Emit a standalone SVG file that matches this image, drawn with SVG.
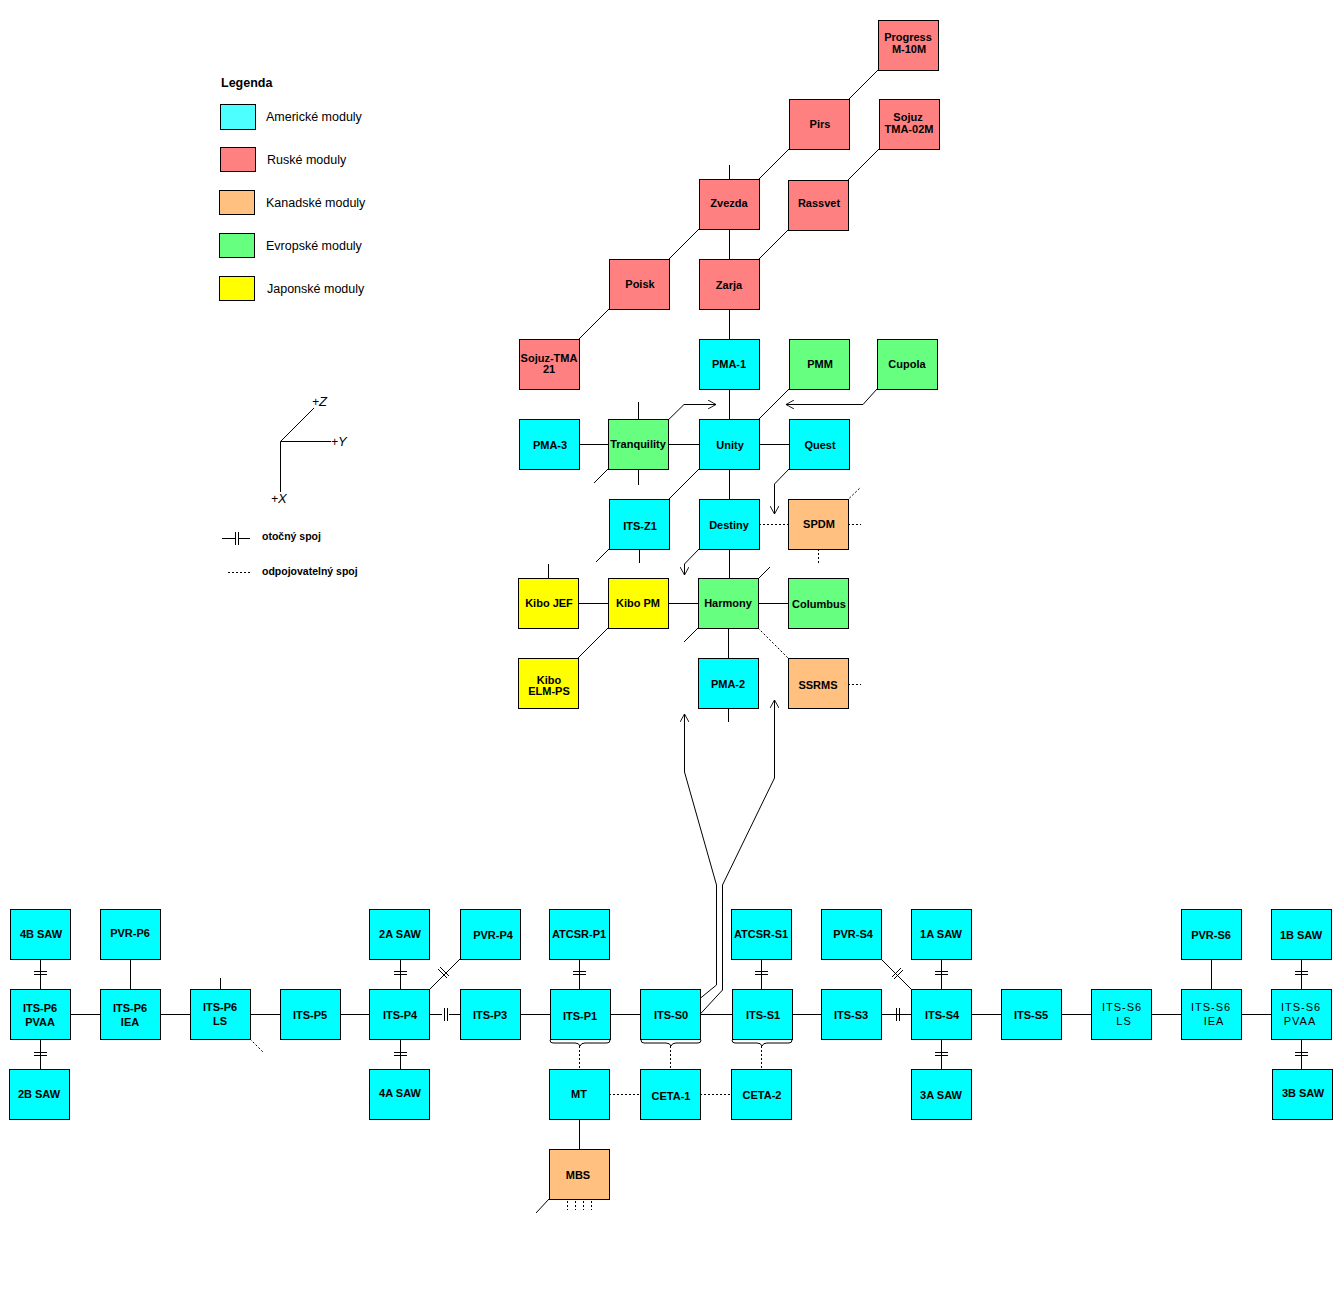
<svg xmlns="http://www.w3.org/2000/svg" width="1341" height="1300" viewBox="0 0 1341 1300">
<style>
rect{stroke:#000;stroke-width:1}
.a{fill:#00ffff}.r{fill:#ff8080}.k{fill:#ffc080}.e{fill:#66ff80}.j{fill:#ffff00}
text{font-family:"Liberation Sans",Arial,sans-serif;font-size:11px;font-weight:bold;text-anchor:middle}
.n{font-weight:normal;letter-spacing:1px}
.lg{font-size:12.5px;font-weight:normal;text-anchor:start}
.c line,.c polyline,.c path{stroke:#000;stroke-width:1;fill:none}
.c .d{stroke-dasharray:2,2}
</style>
<defs><marker id="ar" viewBox="0 0 10 10" refX="9" refY="5" markerWidth="9" markerHeight="9" orient="auto" markerUnits="userSpaceOnUse"><path d="M0,0L9,5L0,10" fill="none" stroke="#000"/></marker></defs>
<g id="legend">
<text x="221" y="87" class="lg" style="font-weight:bold">Legenda</text>
<rect x="220.5" y="104.5" width="35" height="25" fill="#4dffff"/><text x="266" y="121" class="lg">Americké moduly</text>
<rect x="220.5" y="147.5" width="35" height="24" fill="#ff8080"/><text x="267" y="164" class="lg">Ruské moduly</text>
<rect x="219.5" y="190.5" width="35" height="24" fill="#ffc080"/><text x="266" y="207" class="lg">Kanadské moduly</text>
<rect x="219.5" y="233.5" width="35" height="24" fill="#66ff80"/><text x="266" y="250" class="lg">Evropské moduly</text>
<rect x="219.5" y="276.5" width="35" height="24" fill="#ffff00"/><text x="267" y="293" class="lg">Japonské moduly</text>
<g class="c"><line x1="280.5" y1="441.5" x2="314" y2="408"/><line x1="280.5" y1="441.5" x2="331" y2="441.5"/><line x1="280.5" y1="441.5" x2="280.5" y2="492"/>
<line x1="222" y1="538.5" x2="235" y2="538.5"/><line x1="235.5" y1="532" x2="235.5" y2="545"/><line x1="238.5" y1="532" x2="238.5" y2="545"/><line x1="238" y1="538.5" x2="250" y2="538.5"/>
<line class="d" x1="228" y1="572.5" x2="250" y2="572.5"/></g>
<text x="312" y="406" class="lg" style="font-style:italic;font-size:12px">+<tspan font-size="13">Z</tspan></text>
<text x="331" y="446" class="lg" style="font-style:italic;font-size:12px">+<tspan font-size="13">Y</tspan></text>
<text x="271" y="503" class="lg" style="font-style:italic;font-size:12px">+<tspan font-size="13">X</tspan></text>
<text x="262" y="540" class="lg" style="font-weight:bold;font-size:10.5px">otočný spoj</text>
<text x="262" y="575" class="lg" style="font-weight:bold;font-size:10.5px">odpojovatelný spoj</text>
</g>
<g class="c" id="connectors">
<line x1="878" y1="70" x2="836" y2="112"/><line x1="789" y1="149" x2="746" y2="192"/><line x1="879" y1="149" x2="835" y2="193"/>
<line x1="699" y1="229" x2="656" y2="272"/><line x1="788" y1="230" x2="746" y2="272"/><line x1="609" y1="309" x2="569" y2="349"/>
<line x1="729.5" y1="165" x2="729.5" y2="179"/><line x1="729.5" y1="229" x2="729.5" y2="259"/><line x1="729.5" y1="309" x2="729.5" y2="339"/><line x1="729.5" y1="389" x2="729.5" y2="419"/>
<line x1="789" y1="389" x2="746" y2="432"/>
<polyline points="877,389 863,404.5 786,404.5" marker-end="url(#ar)"/>
<polyline points="656,432 684,404.5 716,404.5" marker-end="url(#ar)"/>
<line x1="638.5" y1="402" x2="638.5" y2="419"/><line x1="638.5" y1="469" x2="638.5" y2="485"/><line x1="608" y1="469" x2="594" y2="483"/>
<line x1="579" y1="444.5" x2="608" y2="444.5"/><line x1="668" y1="444.5" x2="699" y2="444.5"/><line x1="759" y1="444.5" x2="789" y2="444.5"/>
<line x1="699" y1="469" x2="656" y2="512"/><line x1="609" y1="549" x2="596" y2="562"/><line x1="639.5" y1="549" x2="639.5" y2="563"/>
<polyline points="789,469 774.5,484 774.5,514" marker-end="url(#ar)"/>
<line x1="729.5" y1="469" x2="729.5" y2="499"/>
<line class="d" x1="759" y1="524.5" x2="788" y2="524.5"/><line class="d" x1="835" y1="512" x2="861" y2="487"/><line class="d" x1="848" y1="524.5" x2="861" y2="524.5"/><line class="d" x1="818.5" y1="549" x2="818.5" y2="563"/>
<polyline points="699,549 684.5,564 684.5,575" marker-end="url(#ar)"/>
<line x1="729.5" y1="549" x2="729.5" y2="578"/>
<line x1="746" y1="591" x2="770" y2="567"/>
<line x1="758" y1="603.5" x2="788" y2="603.5"/><line x1="668" y1="603.5" x2="698" y2="603.5"/><line x1="578" y1="603.5" x2="608" y2="603.5"/>
<line x1="548.5" y1="564" x2="548.5" y2="578"/>
<line x1="608" y1="628" x2="565" y2="671"/><line x1="698" y1="628" x2="684" y2="642"/>
<line class="d" x1="758" y1="628" x2="788" y2="658"/>
<line x1="728.5" y1="628" x2="728.5" y2="658"/><line x1="728.5" y1="708" x2="728.5" y2="722"/>
<line class="d" x1="848" y1="684.5" x2="861" y2="684.5"/>
<polyline points="692,1005 716.5,985 716.5,885 684.5,772 684.5,714" marker-end="url(#ar)"/>
<polyline points="692,1023 722.5,990 722.5,885 774.5,778 774.5,700" marker-end="url(#ar)"/>
<line x1="70" y1="1014.5" x2="1271" y2="1014.5"/>
<!-- rotary joints vertical -->
<line x1="40.5" y1="959" x2="40.5" y2="989"/><line x1="34" y1="971.5" x2="47" y2="971.5"/><line x1="34" y1="974.5" x2="47" y2="974.5"/>
<line x1="40.5" y1="1039" x2="40.5" y2="1069"/><line x1="34" y1="1052.5" x2="47" y2="1052.5"/><line x1="34" y1="1055.5" x2="47" y2="1055.5"/>
<line x1="130.5" y1="959" x2="130.5" y2="989"/>
<line x1="220.5" y1="978" x2="220.5" y2="989"/><line class="d" x1="250" y1="1039" x2="263" y2="1052"/>
<line x1="400.5" y1="959" x2="400.5" y2="989"/><line x1="394" y1="971.5" x2="407" y2="971.5"/><line x1="394" y1="974.5" x2="407" y2="974.5"/>
<line x1="400.5" y1="1039" x2="400.5" y2="1069"/><line x1="394" y1="1052.5" x2="407" y2="1052.5"/><line x1="394" y1="1055.5" x2="407" y2="1055.5"/>
<line x1="579.5" y1="959" x2="579.5" y2="989"/><line x1="573" y1="971.5" x2="586" y2="971.5"/><line x1="573" y1="974.5" x2="586" y2="974.5"/>
<line x1="761.5" y1="959" x2="761.5" y2="989"/><line x1="755" y1="971.5" x2="768" y2="971.5"/><line x1="755" y1="974.5" x2="768" y2="974.5"/>
<line x1="941.5" y1="959" x2="941.5" y2="989"/><line x1="935" y1="971.5" x2="948" y2="971.5"/><line x1="935" y1="974.5" x2="948" y2="974.5"/>
<line x1="941.5" y1="1039" x2="941.5" y2="1069"/><line x1="935" y1="1052.5" x2="948" y2="1052.5"/><line x1="935" y1="1055.5" x2="948" y2="1055.5"/>
<line x1="1211.5" y1="959" x2="1211.5" y2="989"/>
<line x1="1301.5" y1="959" x2="1301.5" y2="989"/><line x1="1295" y1="971.5" x2="1308" y2="971.5"/><line x1="1295" y1="974.5" x2="1308" y2="974.5"/>
<line x1="1301.5" y1="1039" x2="1301.5" y2="1069"/><line x1="1295" y1="1052.5" x2="1308" y2="1052.5"/><line x1="1295" y1="1055.5" x2="1308" y2="1055.5"/>
<!-- horizontal rotary -->
<line stroke="#fff" x1="442" y1="1014.5" x2="449" y2="1014.5" style="stroke:#fff"/>
<line x1="444.5" y1="1008" x2="444.5" y2="1021"/><line x1="447.5" y1="1008" x2="447.5" y2="1021"/>
<line x1="896.5" y1="1008" x2="896.5" y2="1021"/><line x1="899.5" y1="1008" x2="899.5" y2="1021"/>
<!-- diagonal PVR -->
<line x1="460" y1="959" x2="416" y2="1003"/><line x1="438" y1="969" x2="447" y2="978"/><line x1="440" y1="967" x2="449" y2="976"/>
<line x1="881" y1="959" x2="925" y2="1003"/><line x1="892" y1="977" x2="901" y2="968"/><line x1="894" y1="979" x2="903" y2="970"/>
<!-- brackets -->
<path d="M550,1040 q0,3 3,3 h22 q4,0 5,3 q1,-3 5,-3 h22 q3,0 3,-3"/>
<path d="M641,1040 q0,3 3,3 h22 q4,0 5,3 q1,-3 5,-3 h22 q3,0 3,-3"/>
<path d="M732,1040 q0,3 3,3 h22 q4,0 5,3 q1,-3 5,-3 h22 q3,0 3,-3"/>
<line class="d" x1="579.5" y1="1046" x2="579.5" y2="1069"/><line class="d" x1="670.5" y1="1046" x2="670.5" y2="1069"/><line class="d" x1="761.5" y1="1046" x2="761.5" y2="1069"/>
<line class="d" x1="609" y1="1094.5" x2="640" y2="1094.5"/><line class="d" x1="700" y1="1094.5" x2="731" y2="1094.5"/>
<line x1="579.5" y1="1119" x2="579.5" y2="1149"/>
<line x1="549" y1="1199" x2="536" y2="1213"/>
<line class="d" x1="567.5" y1="1201" x2="567.5" y2="1210"/><line class="d" x1="575.5" y1="1201" x2="575.5" y2="1210"/><line class="d" x1="583.5" y1="1201" x2="583.5" y2="1210"/><line class="d" x1="591.5" y1="1201" x2="591.5" y2="1210"/>
</g>
<g id="progress"><rect class="r" x="878.5" y="20.5" width="60" height="50"/><text x="908" y="41">Progress</text><text x="909" y="53">M-10M</text></g>
<g id="pirs"><rect class="r" x="789.5" y="99.5" width="60" height="50"/><text x="820" y="128">Pirs</text></g>
<g id="sojuz02m"><rect class="r" x="879.5" y="99.5" width="60" height="50"/><text x="908" y="121">Sojuz</text><text x="909" y="133">TMA-02M</text></g>
<g id="zvezda"><rect class="r" x="699.5" y="179.5" width="60" height="50"/><text x="729" y="207">Zvezda</text></g>
<g id="rassvet"><rect class="r" x="788.5" y="180.5" width="60" height="50"/><text x="819" y="207">Rassvet</text></g>
<g id="poisk"><rect class="r" x="609.5" y="259.5" width="60" height="50"/><text x="640" y="288">Poisk</text></g>
<g id="zarja"><rect class="r" x="699.5" y="259.5" width="60" height="50"/><text x="729" y="289">Zarja</text></g>
<g id="sojuz21"><rect class="r" x="519.5" y="339.5" width="60" height="50"/><text x="549" y="362">Sojuz-TMA</text><text x="549" y="373">21</text></g>
<g id="pma1"><rect class="a" x="699.5" y="339.5" width="60" height="50"/><text x="729" y="368">PMA-1</text></g>
<g id="pmm"><rect class="e" x="789.5" y="339.5" width="60" height="50"/><text x="820" y="368">PMM</text></g>
<g id="cupola"><rect class="e" x="877.5" y="339.5" width="60" height="50"/><text x="907" y="368">Cupola</text></g>
<g id="pma3"><rect class="a" x="519.5" y="419.5" width="60" height="50"/><text x="550" y="449">PMA-3</text></g>
<g id="tranquility"><rect class="e" x="608.5" y="419.5" width="60" height="50"/><text x="638" y="448">Tranquility</text></g>
<g id="unity"><rect class="a" x="699.5" y="419.5" width="60" height="50"/><text x="730" y="449">Unity</text></g>
<g id="quest"><rect class="a" x="789.5" y="419.5" width="60" height="50"/><text x="820" y="449">Quest</text></g>
<g id="itsz1"><rect class="a" x="609.5" y="499.5" width="60" height="50"/><text x="640" y="530">ITS-Z1</text></g>
<g id="destiny"><rect class="a" x="699.5" y="499.5" width="60" height="50"/><text x="729" y="529">Destiny</text></g>
<g id="spdm"><rect class="k" x="788.5" y="499.5" width="60" height="50"/><text x="819" y="528">SPDM</text></g>
<g id="kibojef"><rect class="j" x="518.5" y="578.5" width="60" height="50"/><text x="549" y="607">Kibo JEF</text></g>
<g id="kibopm"><rect class="j" x="608.5" y="578.5" width="60" height="50"/><text x="638" y="607">Kibo PM</text></g>
<g id="harmony"><rect class="e" x="698.5" y="578.5" width="60" height="50"/><text x="728" y="607">Harmony</text></g>
<g id="columbus"><rect class="e" x="788.5" y="578.5" width="60" height="50"/><text x="819" y="608">Columbus</text></g>
<g id="kiboelm"><rect class="j" x="518.5" y="658.5" width="60" height="50"/><text x="549" y="684">Kibo</text><text x="549" y="695">ELM-PS</text></g>
<g id="pma2"><rect class="a" x="698.5" y="658.5" width="60" height="50"/><text x="728" y="688">PMA-2</text></g>
<g id="ssrms"><rect class="k" x="788.5" y="658.5" width="60" height="50"/><text x="818" y="689">SSRMS</text></g>
<g id="saw4b"><rect class="a" x="10.5" y="909.5" width="60" height="50"/><text x="41" y="938">4B SAW</text></g>
<g id="p6pvaa"><rect class="a" x="10.5" y="989.5" width="60" height="50"/><text x="40" y="1012">ITS-P6</text><text x="40" y="1026">PVAA</text></g>
<g id="saw2b"><rect class="a" x="9.5" y="1069.5" width="60" height="50"/><text x="39" y="1098">2B SAW</text></g>
<g id="pvrp6"><rect class="a" x="100.5" y="909.5" width="60" height="50"/><text x="130" y="937">PVR-P6</text></g>
<g id="p6iea"><rect class="a" x="100.5" y="989.5" width="60" height="50"/><text x="130" y="1012">ITS-P6</text><text x="130" y="1026">IEA</text></g>
<g id="p6ls"><rect class="a" x="190.5" y="989.5" width="60" height="50"/><text x="220" y="1011">ITS-P6</text><text x="220" y="1025">LS</text></g>
<g id="p5"><rect class="a" x="280.5" y="989.5" width="60" height="50"/><text x="310" y="1019">ITS-P5</text></g>
<g id="saw2a"><rect class="a" x="369.5" y="909.5" width="60" height="50"/><text x="400" y="938">2A SAW</text></g>
<g id="pvrp4"><rect class="a" x="460.5" y="909.5" width="60" height="50"/><text x="493" y="939">PVR-P4</text></g>
<g id="p4"><rect class="a" x="369.5" y="989.5" width="60" height="50"/><text x="400" y="1019">ITS-P4</text></g>
<g id="saw4a"><rect class="a" x="369.5" y="1069.5" width="60" height="50"/><text x="400" y="1097">4A SAW</text></g>
<g id="p3"><rect class="a" x="460.5" y="989.5" width="60" height="50"/><text x="490" y="1019">ITS-P3</text></g>
<g id="atcsrp1"><rect class="a" x="549.5" y="909.5" width="60" height="50"/><text x="579" y="938">ATCSR-P1</text></g>
<g id="p1"><rect class="a" x="550.5" y="989.5" width="60" height="50"/><text x="580" y="1020">ITS-P1</text></g>
<g id="mt"><rect class="a" x="549.5" y="1069.5" width="60" height="50"/><text x="579" y="1098">MT</text></g>
<g id="mbs"><rect class="k" x="549.5" y="1149.5" width="60" height="50"/><text x="578" y="1179">MBS</text></g>
<g id="s0"><rect class="a" x="640.5" y="989.5" width="60" height="50"/><text x="671" y="1019">ITS-S0</text></g>
<g id="ceta1"><rect class="a" x="640.5" y="1069.5" width="60" height="50"/><text x="671" y="1100">CETA-1</text></g>
<g id="atcsrs1"><rect class="a" x="731.5" y="909.5" width="60" height="50"/><text x="761" y="938">ATCSR-S1</text></g>
<g id="s1"><rect class="a" x="732.5" y="989.5" width="60" height="50"/><text x="763" y="1019">ITS-S1</text></g>
<g id="ceta2"><rect class="a" x="731.5" y="1069.5" width="60" height="50"/><text x="762" y="1099">CETA-2</text></g>
<g id="pvrs4"><rect class="a" x="821.5" y="909.5" width="60" height="50"/><text x="853" y="938">PVR-S4</text></g>
<g id="s3"><rect class="a" x="821.5" y="989.5" width="60" height="50"/><text x="851" y="1019">ITS-S3</text></g>
<g id="saw1a"><rect class="a" x="911.5" y="909.5" width="60" height="50"/><text x="941" y="938">1A SAW</text></g>
<g id="s4"><rect class="a" x="911.5" y="989.5" width="60" height="50"/><text x="942" y="1019">ITS-S4</text></g>
<g id="saw3a"><rect class="a" x="911.5" y="1069.5" width="60" height="50"/><text x="941" y="1099">3A SAW</text></g>
<g id="s5"><rect class="a" x="1001.5" y="989.5" width="60" height="50"/><text x="1031" y="1019">ITS-S5</text></g>
<g id="s6ls"><rect class="a" x="1091.5" y="989.5" width="60" height="50"/><text class="n" x="1122" y="1011">ITS-S6</text><text class="n" x="1124" y="1025">LS</text></g>
<g id="pvrs6"><rect class="a" x="1181.5" y="909.5" width="60" height="50"/><text x="1211" y="939">PVR-S6</text></g>
<g id="s6iea"><rect class="a" x="1181.5" y="989.5" width="60" height="50"/><text class="n" x="1211" y="1011">ITS-S6</text><text class="n" x="1214" y="1025">IEA</text></g>
<g id="saw1b"><rect class="a" x="1271.5" y="909.5" width="60" height="50"/><text x="1301" y="939">1B SAW</text></g>
<g id="s6pvaa"><rect class="a" x="1271.5" y="989.5" width="60" height="50"/><text class="n" x="1301" y="1011">ITS-S6</text><text class="n" x="1300" y="1025">PVAA</text></g>
<g id="saw3b"><rect class="a" x="1272.5" y="1069.5" width="60" height="50"/><text x="1303" y="1097">3B SAW</text></g>
</svg>
